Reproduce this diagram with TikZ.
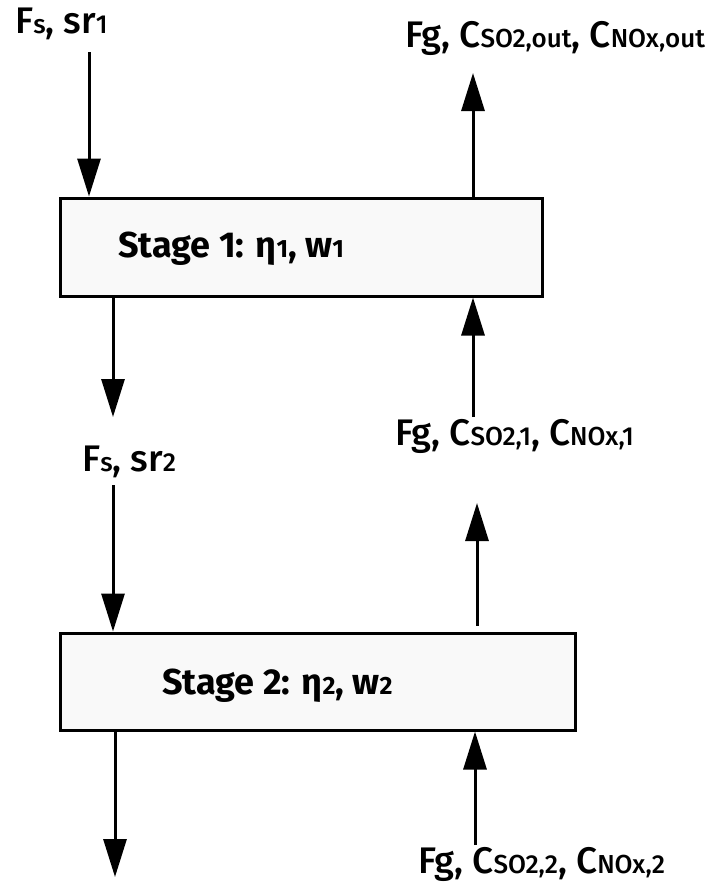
\documentclass[tikz,border=0pt]{standalone}
\usepackage{fontspec}
\setmainfont{Fira Sans}[UprightFont=* Medium, BoldFont=* Bold]
\usetikzlibrary{arrows.meta,positioning,calc}
\newcommand{\lo}[1]{{\fontsize{26}{28}\selectfont #1}}
\newcommand{\slo}[1]{{\fontsize{25}{28}\selectfont #1}}

\begin{document}
\begin{tikzpicture}[x=1pt, y=-1pt,
        stagebox/.style={rectangle, draw=black, line width=3pt, fill=gray!5, minimum width=482pt, minimum height=98pt, inner sep=0pt},
        stagetext/.style={font=\fontsize{36}{40}\selectfont\bfseries, inner sep=0pt, anchor=base west},
        flowlabel/.style={font=\fontsize{37}{40}\selectfont, inner sep=0pt, anchor=base west},
        arrow/.style={-{Triangle[length=38pt, width=23pt]}, line width=3pt}]

        \path[use as bounding box, fill=white] (0,0) rectangle (721,886);

        % stages
        \node[stagebox] (stage1) at (301,247) {};
        \node[stagebox, minimum width=515pt, minimum height=97pt] (stage2) at (317.5,681.5) {};
        \node[stagetext] (stage1txt) at (118,257) {Stage 1: η\slo{1}, w\slo{1}};
        \node[stagetext] (stage2txt) at (162,694) {Stage 2: η\slo{2}, w\slo{2}};

        % stream labels
        \node[flowlabel] (feed1) at (15,33) {F\lo{s}, sr\lo{1}};
        \node[flowlabel] (gasout) at (405,47) {Fg, C\lo{SO2,out}, C\lo{NOx,out}};
        \node[flowlabel] (feed2) at (82,471) {F\lo{s}, sr\lo{2}};
        \node[flowlabel] (gas1) at (395,445) {Fg, C\lo{SO2,1}, C\lo{NOx,1}};
        \node[flowlabel] (gas2) at (418,873) {Fg, C\lo{SO2,2}, C\lo{NOx,2}};

        % arrow ends
        \coordinate (in1) at (89,52);
        \coordinate (out1) at (473,73);
        \coordinate (mid1) at (113,417);
        \coordinate (up1) at (473,417);
        \coordinate (in2) at (113,485);
        \coordinate (up2) at (477,503);
        \coordinate (out2) at (115,877);
        \coordinate (up3) at (475,845);

        \draw[arrow] (in1) -- (in1 |- stage1.north);
        \draw[arrow] (out1 |- stage1.north) -- (out1);
        \draw[arrow] (mid1 |- stage1.south) -- (mid1);
        \draw[arrow] (up1) -- (up1 |- stage1.south);
        \draw[arrow] (in2) -- (in2 |- stage2.north);
        \draw[arrow] ($(up2 |- stage2.north)+(0,-6)$) -- (up2);
        \draw[arrow] (out2 |- stage2.south) -- (out2);
        \draw[arrow] (up3) -- (up3 |- stage2.south);

    \end{tikzpicture}
\end{document}
